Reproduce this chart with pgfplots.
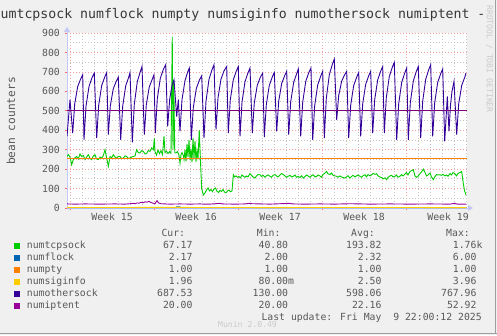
\documentclass[border=0pt]{standalone}
\usepackage{fontspec}
\setmainfont{DejaVu Sans Mono}
\usepackage{pgfplots}
\pgfplotsset{compat=1.18}
\usetikzlibrary{arrows.meta}
\definecolor{bgcol}{HTML}{F0F0F0}
\definecolor{axiscol}{HTML}{C4C8F4}
\definecolor{gridmaj}{HTML}{F2A0A0}
\definecolor{gridmin}{HTML}{C4C4C4}
\definecolor{labelcol}{HTML}{585858}
\definecolor{titlecol}{HTML}{383838}
\definecolor{wmcol}{HTML}{CACACA}
\definecolor{framecol}{HTML}{9E9E9E}
\definecolor{cTcp}{HTML}{00CC00}
\definecolor{cFlock}{HTML}{0066B3}
\definecolor{cPty}{HTML}{FF8000}
\definecolor{cSig}{HTML}{FFCC00}
\definecolor{cOther}{HTML}{330099}
\definecolor{cIpt}{HTML}{990099}
\definecolor{cLim}{HTML}{7A007A}
\newcommand\ticksfont{\fontsize{9.8bp}{11bp}\selectfont}
\newcommand\titlefont{\fontsize{13.2bp}{15bp}\selectfont}
\newcommand\ylabfont{\fontsize{11.2bp}{13bp}\selectfont}
\newcommand\wmfont{\fontsize{8.1bp}{9bp}\selectfont}
\begin{document}
\begin{tikzpicture}[x=1bp,y=1bp]
\fill[bgcol] (0,0) rectangle (497,335);
\useasboundingbox (0,0) rectangle (497,335);
\fill[framecol] (0,0.6) rectangle (497,2.4);
\fill[framecol] (494.6,0.6) rectangle (496.4,335);
\begin{axis}[
  at={(67bp,127bp)}, anchor=south west,
  scale only axis, width=400bp, height=175bp,
  xmin=-6, xmax=794, ymin=0, ymax=900,
  axis lines=left,
  axis line style={draw=axiscol, line width=0.9bp},
  x axis line style={-{Triangle[length=5bp,width=6bp]}, shorten >=-6bp},
  y axis line style={-{Triangle[length=5bp,width=6bp]}, shorten >=-6bp},
  axis background/.style={fill=white},
  xtick={0,168,336,504,672},
  xticklabels={Week 15,Week 16,Week 17,Week 18,Week 19},
  xticklabel style={xshift=42bp, anchor=north, inner sep=0pt, yshift=-3bp},
  minor xtick={24,48,72,96,120,144,192,216,240,264,288,312,360,384,408,432,456,480,528,552,576,600,624,648,696,720,744,768,792},
  ytick={0,100,...,900},
  minor ytick={50,150,...,850},
  yticklabel style={anchor=east, inner sep=0pt, xshift=-5bp},
  grid=both,
  major grid style={draw=gridmaj, dash pattern=on 1bp off 2bp, line width=0.7bp},
  minor grid style={draw=gridmin, dash pattern=on 1bp off 2bp, line width=0.7bp},
  tick align=outside,
  major tick length=2bp, minor tick length=0bp,
  every tick/.style={draw=red!60, line width=0.7bp},
  tick label style={font=\ticksfont, text=labelcol},
  /pgf/number format/assume math mode=true,
  clip=true,
]
% numtcpsock
\addplot[cTcp, line width=0.9bp] coordinates {
(-6,265) (-3.3,274) (0,262) (3.3,223) (6.7,249) (10,258) (13.3,265) (16.7,252) (20,278) (23.3,265)
(26.7,270) (30,249) (33.3,262) (36.7,274) (40,255) (43.3,249) (46.7,268) (50,274) (53.3,252) (56.7,249)
(60,262) (63.3,257) (66.7,270) (70,300) (73.3,257) (76.7,214) (80,265) (83.3,258) (86.7,274) (90,262)
(93.3,257) (96.7,266) (100,265) (103.3,254) (106.7,257) (110,268) (113.3,265) (116.7,255) (120,257) (123.3,262)
(126.7,265) (130,268) (133.3,300) (136.7,285) (140,283) (143.3,295) (146.7,291) (150,278) (153.3,280) (156.7,296)
(160,291) (163.3,309) (166.7,300) (168.7,358) (170,290) (173,272) (176,298) (179,280) (182,295) (185,275)
(188,369) (190,285) (193,292) (196,280) (199,290) (202,282) (204.5,881) (206,300) (207.5,658) (209.5,285)
(212,283) (215,290) (218,270) (220,231) (222,275) (224,285) (226.7,270) (228,250) (230,300) (232,240)
(234,330) (236,262) (238,350) (240,245) (242,305) (244,236) (246,360) (248,255) (250,345) (252,238)
(254,295) (256,250) (258.5,400) (261,240) (263.3,100) (266.7,67) (270,78) (273,92) (276,103) (279,88)
(282,95) (285,84) (288,98) (291,103) (294,86) (297,80) (300,90) (303,85) (306,95) (309,82)
(312,78) (315,88) (318,92) (321,84) (324,88) (326.7,171) (329,160) (332,165) (335,158) (338,162)
(341,155) (344,170) (347,163) (350,158) (353,165) (356,160) (360,177) (363,168) (366,160) (370,154)
(373,165) (376,172) (380,171) (383,162) (386,168) (390,158) (393,166) (396,170) (400,163) (403,158)
(406,168) (410,172) (413,165) (416,160) (420,170) (423,177) (426.7,172) (430,165) (433,158) (436,163)
(440,168) (443,160) (446.7,163) (450,170) (453,158) (456,162) (460,157) (463,166) (466.7,154) (470,162)
(473,170) (476,165) (480,158) (483,166) (486,171) (490,160) (493.3,163) (496,170) (500,165) (503,158)
(506,172) (510,180) (513.3,188) (516,176) (520,172) (523.3,180) (526,168) (530,165) (533.3,163) (536,158)
(540,165) (543,160) (546,157) (550,154) (553,160) (556,166) (560,154) (563,162) (566,168) (570,160)
(573,165) (576,170) (580,163) (583,158) (586,166) (590,171) (593,160) (596,172) (600,165) (603,170)
(606,178) (610,173) (613.3,177) (616,165) (620,160) (623,156) (626,150) (630,155) (633.3,146) (636,158)
(640,165) (643,168) (646,160) (650,163) (653,170) (656,158) (660,163) (663,172) (666,165) (670,175)
(673,182) (676,170) (680,188) (683,192) (686.7,197) (690,165) (693,158) (696,163) (700,177) (703,185)
(706.7,200) (710,183) (713,165) (716.7,171) (720,180) (723,160) (726.7,146) (730,162) (733,172) (736,170)
(740,171) (743,168) (746,173) (750,165) (753,170) (756,163) (760,177) (763,170) (766,182) (770,176)
(773,165) (776,178) (780,183) (783.3,188) (786.7,125) (789,90) (792,67)
};
% numflock
\addplot[cFlock, line width=0.9bp] coordinates {(-6,2) (212,2) (213,6) (220,6) (221,2) (792,2.17)};
% numpty
\addplot[cPty, line width=0.9bp] coordinates {(-6,1) (792,1)};
% numsiginfo
\addplot[cSig, line width=0.9bp] coordinates {(-6,2.5) (200,3) (400,2.2) (600,2.8) (792,1.96)};
% numothersock
\addplot[cOther, line width=0.9bp] coordinates {
(-6,368) (0,557) (5.4,385) (9.4,535) (15.4,625) (21.4,664) (25.4,685)
(28,351) (32,523) (38,625) (44,670) (48.6,694)
(53.4,360) (57.4,529) (63.4,630) (69.4,673) (73.4,697)
(76.6,377) (80.6,525) (86.6,614) (92.6,652) (96.6,673)
(101.4,351) (105.4,524) (111.4,628) (117.4,673) (120,697)
(124.6,338) (128.6,533) (134.6,650) (140.6,701) (144,728)
(148.6,377) (152.6,531) (158.6,623) (164.6,663) (168,685)
(170.6,385) (174.6,561) (180.6,667) (186.6,712) (191.4,737)
(195.4,420) (199.4,560) (204,630) (208,660) (213.4,470) (216.6,557) (220,394) (224,557) (230,655) (235,697) (238.6,720)
(242.6,351) (246.6,516) (252.6,614) (258.6,657) (263.4,680)
(268,360) (272,549) (278,662) (284,711) (288,737)
(292,403) (296,566) (302,663) (308,705) (313.4,728)
(316.6,385) (320.6,557) (326.6,659) (332.6,704) (336.6,728)
(340,368) (344,544) (350,650) (356,695) (360,720)
(364.6,385) (368.6,540) (374.6,632) (380.6,672) (385.4,694)
(388.6,365) (392.6,531) (398.6,631) (404.6,674) (408.6,697)
(413.4,394) (417.4,549) (423.4,641) (429.4,681) (433.4,703)
(437.4,377) (441.4,546) (447.4,647) (453.4,691) (456.6,715)
(461.4,368) (465.4,544) (471.4,650) (477.4,695) (482,720)
(485.4,351) (489.4,527) (495.4,633) (501.4,678) (505.4,703)
(508.6,360) (512.6,563) (518.6,685) (524.6,738) (528.6,766)
(533.4,454) (537.4,579) (543.4,653) (549.4,686) (553.4,703)
(557.4,360) (561.4,529) (567.4,630) (573.4,673) (577.4,697)
(581.4,368) (585.4,536) (591.4,636) (597.4,680) (601.4,703)
(605.4,385) (609.4,557) (615.4,659) (621.4,704) (625.4,728)
(628.6,385) (632.6,567) (638.6,676) (644.6,724) (648.6,749)
(653.4,351) (657.4,536) (663.4,646) (669.4,694) (673.4,720)
(676.6,351) (680.6,540) (686.6,653) (692.6,702) (696.6,728)
(701.4,360) (705.4,549) (711.4,662) (717.4,711) (721.4,737)
(725.4,368) (729.4,542) (735.4,646) (741.4,691) (745.4,715)
(749.4,343) (754.6,574) (758,394) (761,530) (764,600) (768,651)
(773.4,377) (777.4,536) (783.4,630) (789.4,672) (792,694)
};
% numiptent
\addplot[cIpt, line width=0.9bp] coordinates {
(-6,21) (10,20) (30,21) (60,20) (90,21) (110,20) (120,22) (126,24) (130,22) (134,26) (138,25)
(142,29) (146,27) (150,32) (154,30) (158,34) (162,28) (166,25) (170,22) (174,38) (177,26) (182,22)
(190,21) (200,20) (220,21) (240,20) (260,21) (270,20) (280,20) (300,24) (304,21) (330,20) (350,21)
(360,24) (364,22) (400,20) (420,22) (440,24) (444,21) (470,20) (500,21) (530,20) (560,22) (600,20)
(640,21) (680,20) (720,21) (760,20) (770,24) (774,20) (792,20)
};
% limit lines
\addplot[cPty, line width=0.9bp] coordinates {(-6,256) (794,256)};
\addplot[cLim, line width=0.9bp] coordinates {(-6,500) (794,500)};
\end{axis}
% title
\node[anchor=base west, inner sep=0pt, text=titlecol] at (0.5,316.7) {\titlefont umtcpsock numflock numpty numsiginfo numothersock numiptent -};
% y label
\node[rotate=90, inner sep=0pt, text=labelcol] at (11,214) {\ylabfont bean counters};
% watermark
\node[rotate=-90, inner sep=0pt, text=wmcol] at (489.5,276) {\wmfont RRDTOOL / TOBI OETIKER};
% legend
\begin{scope}[every node/.style={inner sep=0pt, text=labelcol, font=\ticksfont}]
\node[anchor=base east] at (185.3,98.3) {Cur:};
\node[anchor=base east] at (280.7,98.3) {Min:};
\node[anchor=base east] at (375,98.3) {Avg:};
\node[anchor=base east] at (470,98.3) {Max:};
% rows
\fill[cTcp] (14,86.5) rectangle (20,92.5);
\node[anchor=base west] at (26.7,86.5) {numtcpsock};
\node[anchor=base east] at (192.7,86.5) {67.17};
\node[anchor=base east] at (288.3,86.5) {40.80};
\node[anchor=base east] at (381.7,86.5) {193.82};
\node[anchor=base east] at (476.7,86.5) {1.76\rlap{k}};
\fill[cFlock] (14,74.5) rectangle (20,80.5);
\node[anchor=base west] at (26.7,74.5) {numflock};
\node[anchor=base east] at (192.7,74.5) {2.17};
\node[anchor=base east] at (288.3,74.5) {2.00};
\node[anchor=base east] at (381.7,74.5) {2.32};
\node[anchor=base east] at (476.7,74.5) {6.00};
\fill[cPty] (14,62.5) rectangle (20,68.5);
\node[anchor=base west] at (26.7,62.5) {numpty};
\node[anchor=base east] at (192.7,62.5) {1.00};
\node[anchor=base east] at (288.3,62.5) {1.00};
\node[anchor=base east] at (381.7,62.5) {1.00};
\node[anchor=base east] at (476.7,62.5) {1.00};
\fill[cSig] (14,50.5) rectangle (20,56.5);
\node[anchor=base west] at (26.7,50.5) {numsiginfo};
\node[anchor=base east] at (192.7,50.5) {1.96};
\node[anchor=base east] at (288.3,50.5) {80.00\rlap{m}};
\node[anchor=base east] at (381.7,50.5) {2.50};
\node[anchor=base east] at (476.7,50.5) {3.96};
\fill[cOther] (14,38.5) rectangle (20,44.5);
\node[anchor=base west] at (26.7,38.5) {numothersock};
\node[anchor=base east] at (192.7,38.5) {687.53};
\node[anchor=base east] at (288.3,38.5) {130.00};
\node[anchor=base east] at (381.7,38.5) {598.06};
\node[anchor=base east] at (476.7,38.5) {767.96};
\fill[cIpt] (14,26.5) rectangle (20,32.5);
\node[anchor=base west] at (26.7,26.5) {numiptent};
\node[anchor=base east] at (192.7,26.5) {20.00};
\node[anchor=base east] at (288.3,26.5) {20.00};
\node[anchor=base east] at (381.7,26.5) {22.16};
\node[anchor=base east] at (476.7,26.5) {52.92};
\node[anchor=base east] at (482,14.3) {Last update: Fri May\ \ 9 22:00:12 2025};
\end{scope}
\node[anchor=base, inner sep=0pt, text=wmcol] at (247.5,8) {\wmfont Munin 2.0.49};
\end{tikzpicture}
\end{document}
